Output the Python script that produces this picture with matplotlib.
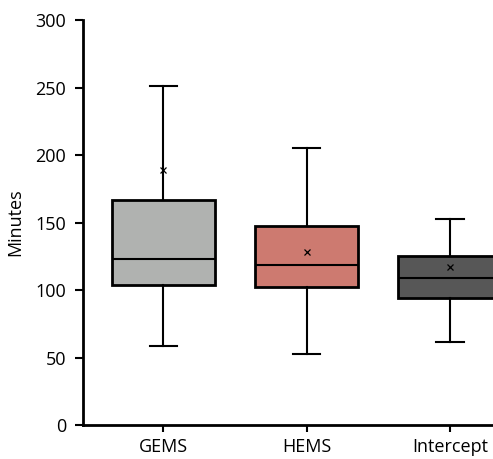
import matplotlib
matplotlib.use("Agg")
import matplotlib.pyplot as plt

plt.rcParams['font.family'] = ['Open Sans', 'DejaVu Sans']

groups = ['GEMS', 'HEMS', 'Intercept']
whislo = [58.7, 52.6, 61.7]
q1 = [104, 102.4, 93.8]
med = [122.7, 118.5, 108.6]
q3 = [167, 147.4, 125]
whishi = [251, 205, 153]
means = [189, 128.4, 116.8]
colors = ['#b0b2b0', '#cd7a70', '#575757']

stats = []
for i, g in enumerate(groups):
    stats.append(dict(label=g, whislo=whislo[i], q1=q1[i], med=med[i], q3=q3[i],
                      whishi=whishi[i], mean=means[i], fliers=[]))

fig = plt.figure(figsize=(4.93, 4.59), dpi=100)
ax = fig.add_axes([0.168, 0.074, 0.832, 0.882])

bp = ax.bxp(stats, positions=[1, 2, 3], widths=0.72, patch_artist=True,
            showmeans=True, capwidths=0.19,
            boxprops=dict(linewidth=2, edgecolor='black'),
            medianprops=dict(color='black', linewidth=1.5),
            whiskerprops=dict(color='black', linewidth=1.5),
            capprops=dict(color='black', linewidth=1.5),
            meanprops=dict(marker='x', markeredgecolor='black', markersize=4.5,
                           markeredgewidth=0.9))
for patch, c in zip(bp['boxes'], colors):
    patch.set_facecolor(c)

ax.set_ylim(0, 300)
ax.set_xlim(0.44, 3.3)
ax.set_yticks([0, 50, 100, 150, 200, 250, 300])
ax.set_xticks([1, 2, 3])
ax.set_xticklabels(groups)
ax.tick_params(axis='both', labelsize=13, width=1.5)
ax.tick_params(axis='y', length=6, pad=6)
ax.tick_params(axis='x', length=5, pad=4)
ax.set_ylabel('Minutes', fontsize=13, labelpad=8)
for s in ['top', 'right']:
    ax.spines[s].set_visible(False)
for s in ['left', 'bottom']:
    ax.spines[s].set_linewidth(2)

fig.savefig('out.png', dpi=100)
